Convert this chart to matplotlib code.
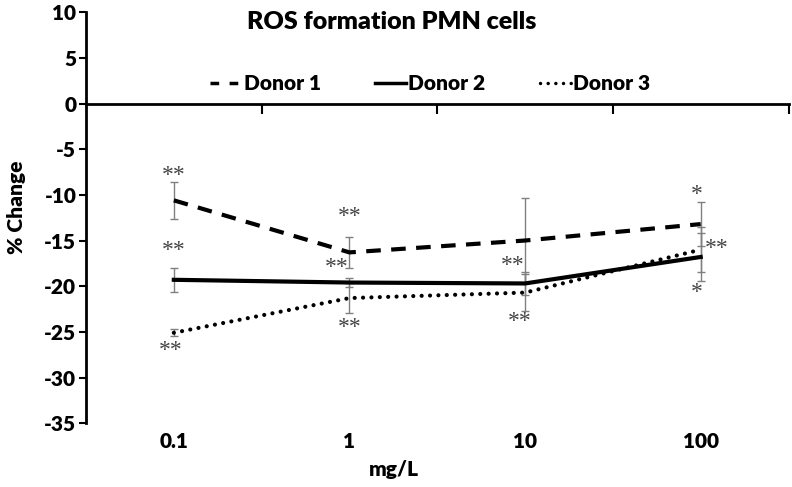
import numpy as np
import matplotlib.pyplot as plt
from matplotlib.lines import Line2D
from matplotlib.transforms import blended_transform_factory

plt.rcParams['font.family'] = ['Lato', 'DejaVu Sans']
plt.rcParams['axes.unicode_minus'] = False

doses = ['0.1', '1', '10', '100']
donor1 = [-10.6, -16.3, -15.0, -13.2]
donor2 = [-19.3, -19.6, -19.7, -16.8]
donor3 = [-25.1, -21.3, -20.7, -16.0]
err1 = [2.0, 1.7, 4.7, 2.4]
err2 = [1.3, 0.5, 1.3, 2.6]
err3 = [0.4, 1.6, 2.0, 2.5]

# significance marks: (category index, x offset, y value, text)
stars = [(0, 0, -7.9, '**'), (0, 0, -16.1, '**'), (0, -0.02, -27.0, '**'),
         (1, 0, -12.4, '**'), (1, -0.07, -17.9, '**'), (1, 0, -24.5, '**'),
         (2, -0.07, -17.7, '**'), (2, -0.03, -23.9, '**'),
         (3, -0.02, -10.0, '*'), (3, 0.09, -15.9, '**'), (3, -0.02, -20.7, '*')]

x = np.arange(len(doses))
dash1 = (0, (3.5, 2.5))
dot3 = (0, (0.01, 2.0))
W = 'heavy'

fig = plt.figure(figsize=(7.92, 4.87), dpi=100)
ax = fig.add_axes([0.1086, 0.131, 0.887, 0.844])

ekw = dict(ecolor='#808080', elinewidth=1, capsize=3, capthick=1)
ax.errorbar(x, donor1, yerr=err1, color='black', lw=3, ls=dash1, **ekw)
ax.errorbar(x, donor2, yerr=err2, color='black', lw=3, ls='-', **ekw)
ax.errorbar(x, donor3, yerr=err3, color='black', lw=3, ls=dot3,
            dash_capstyle='round', **ekw)

for i, dx, yv, s in stars:
    ax.text(i + dx, yv, s, ha='center', va='center', fontsize=17,
            family='Liberation Serif', color='#444444')

ax.set_xlim(-0.5, 3.5)
ax.set_ylim(-35, 10)
ax.set_yticks(np.arange(-35, 11, 5))
ax.tick_params(axis='y', length=5, width=1.5, labelsize=15, pad=2)
for lbl in ax.get_yticklabels():
    lbl.set_fontweight(W)

ax.spines['bottom'].set_position(('data', 0))
ax.spines['top'].set_visible(False)
ax.spines['right'].set_visible(False)
ax.spines['left'].set_linewidth(2)
ax.spines['bottom'].set_linewidth(2)
ax.set_xticks([0.5, 1.5, 2.5, 3.5])
ax.set_xticklabels([])
ax.tick_params(axis='x', length=7, width=1.5, direction='out')

trans = blended_transform_factory(ax.transData, ax.transAxes)
for i, d in enumerate(doses):
    ax.text(i, -0.045, d, transform=trans, ha='center', va='center',
            fontsize=15, fontweight=W)

fig.text(0.497, 0.035, 'mg/L', ha='center', va='center', fontsize=15, fontweight=W)
ax.set_ylabel('% Change', fontsize=15, fontweight=W)
ax.yaxis.set_label_coords(-0.085, 0.525)
fig.text(0.495, 0.955, 'ROS formation PMN cells', ha='center', va='center', fontsize=18,
         fontweight=W)

handles = [Line2D([], [], color='black', lw=2.5, ls=(0, (2.5, 3))),
           Line2D([], [], color='black', lw=2.5, ls='-'),
           Line2D([], [], color='black', lw=2.5, ls=(0, (0.01, 2.2)), dash_capstyle='round')]
ax.legend(handles, ['Donor 1', 'Donor 2', 'Donor 3'], loc='center',
          bbox_to_anchor=(0.49, 0.826), ncol=3, frameon=False,
          handlelength=1.5, handletextpad=0.1, columnspacing=2.6,
          prop={'weight': W, 'size': 15})

fig.savefig('out.png', dpi=100)
